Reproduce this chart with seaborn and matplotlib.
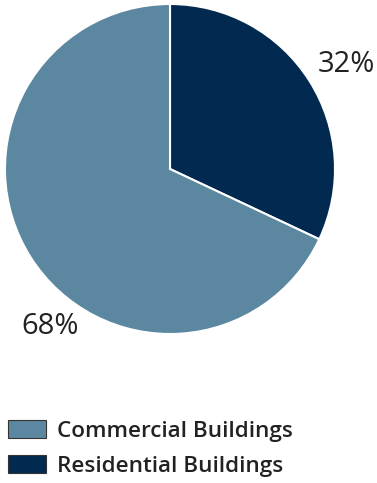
import matplotlib
matplotlib.use("Agg")
import matplotlib.pyplot as plt
import seaborn as sns
from matplotlib.patches import Patch

sns.set_theme(style="white")
plt.rcParams['font.family'] = ['Open Sans', 'DejaVu Sans']

categories = ["Residential Buildings", "Commercial Buildings"]
values = [32, 68]
colors = ["#022a50", "#5b88a0"]
legend_order = ["Commercial Buildings", "Residential Buildings"]

W, H = 377, 483
fig = plt.figure(figsize=(W / 100, H / 100), dpi=100)
ax = fig.add_axes([5 / W, (H - 334) / H, 330 / W, 330 / H])

wedges, _ = ax.pie(values, colors=colors, startangle=90, counterclock=False,
                   wedgeprops=dict(edgecolor="white", linewidth=1.5))
ax.set_aspect("equal")
ax.set_xlim(-1, 1)
ax.set_ylim(-1, 1)
ax.axis("off")

# percentage labels
label_pos = {"Residential Buildings": (346, 65), "Commercial Buildings": (50, 327)}
for cat, v in zip(categories, values):
    x, y = label_pos[cat]
    fig.text(x / W, 1 - y / H, f"{v}%", ha="center", va="center",
             fontsize=21, color="#222222")

cmap = dict(zip(categories, colors))
handles = [Patch(facecolor=cmap[c], edgecolor="#333333", linewidth=0.8, label=c)
           for c in legend_order]
fs = 16.2
leg = fig.legend(handles=handles, loc="upper left",
                 bbox_to_anchor=(8 / W, 1 - 420 / H),
                 frameon=False, prop={'weight': 'semibold', 'size': fs},
                 handlelength=1.68, handleheight=0.84, handletextpad=0.5,
                 labelspacing=0.6, borderaxespad=0, borderpad=0)
for t in leg.get_texts():
    t.set_color("#222222")

fig.savefig("out.png", dpi=100)
